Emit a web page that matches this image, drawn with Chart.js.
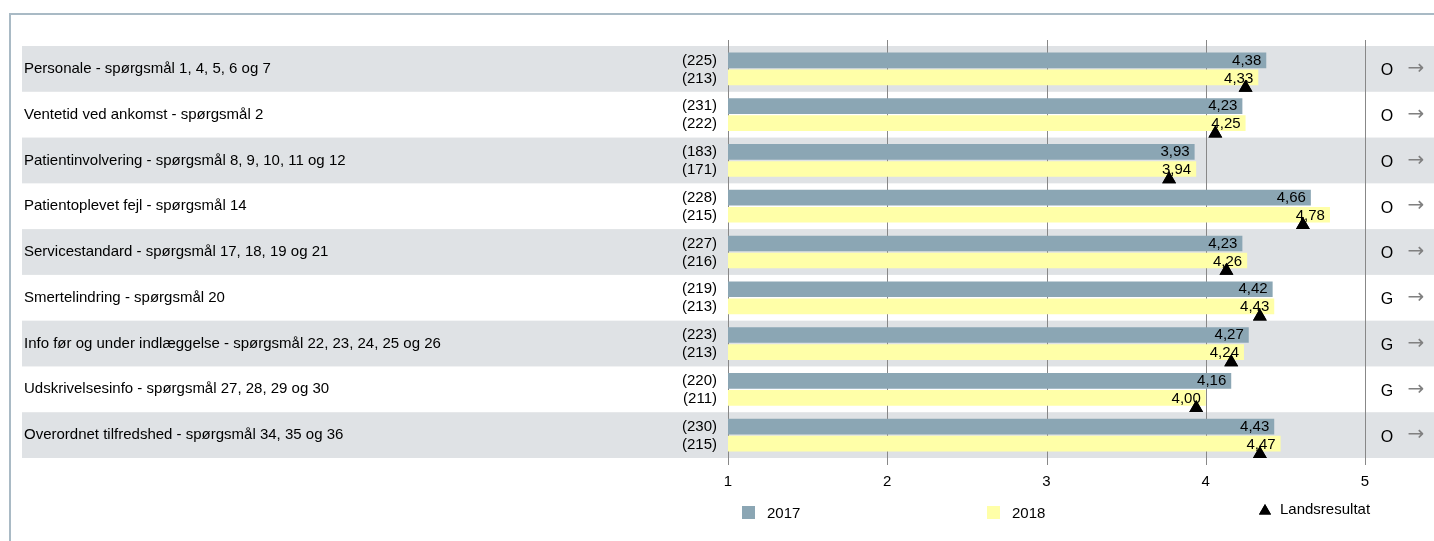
<!DOCTYPE html>
<html><head><meta charset="utf-8">
<script src="https://cdn.jsdelivr.net/npm/chart.js@4.4.1/dist/chart.umd.min.js"></script>
<style>
html,body{margin:0;padding:0;background:#fff;}
#wrap{position:relative;width:1434px;height:541px;overflow:hidden;}
#frame{position:absolute;left:9px;top:13px;right:-4px;bottom:-4px;border-top:2px solid #a9bac5;border-left:2px solid #a9bac5;pointer-events:none;}
canvas{position:absolute;left:0;top:0;}
</style></head><body>
<div id="wrap"><canvas id="c" width="1434" height="541"></canvas><div id="frame"></div></div>
<script>
/* Landsresultat chart, 2017 vs 2018 */
const categories=['Personale - spørgsmål 1, 4, 5, 6 og 7','Ventetid ved ankomst - spørgsmål 2','Patientinvolvering - spørgsmål 8, 9, 10, 11 og 12','Patientoplevet fejl - spørgsmål 14','Servicestandard - spørgsmål 17, 18, 19 og 21','Smertelindring - spørgsmål 20','Info før og under indlæggelse - spørgsmål 22, 23, 24, 25 og 26','Udskrivelsesinfo - spørgsmål 27, 28, 29 og 30','Overordnet tilfredshed - spørgsmål 34, 35 og 36'];
const v2017=[4.38,4.23,3.93,4.66,4.23,4.42,4.27,4.16,4.43];
const v2018=[4.33,4.25,3.94,4.78,4.26,4.43,4.24,4.00,4.47];
const lands=[4.25,4.06,3.77,4.61,4.13,4.34,4.16,3.94,4.34];
const n2017=[225,231,183,228,227,219,223,220,230];
const n2018=[213,222,171,215,216,213,213,211,215];
const grades=['O','O','O','O','O','G','G','G','O'];
const xTicks=[1,2,3,4,5];
const seriesNames=['2017','2018','Landsresultat'];

const C17='#8ba6b4',C18='#ffffa8',BAND='#dfe2e5',FONT='"Liberation Sans", Arial, sans-serif';
function fmt(v){return v.toFixed(2).replace('.',',');}

const decor={
  id:'decor',
  beforeDraw(chart){
    const {ctx,chartArea:a,scales:{x,y}}=chart;
    const step=(a.bottom-a.top)/categories.length;
    ctx.save();
    categories.forEach((c,i)=>{if(i%2===0){ctx.fillStyle=BAND;ctx.fillRect(y.left-2,a.top+i*step,chart.width-(y.left-2),step);}});
    ctx.strokeStyle='#888';ctx.lineWidth=1;
    xTicks.forEach(t=>{const px=Math.round(x.getPixelForValue(t))+0.5;ctx.beginPath();ctx.moveTo(px,a.top-6);ctx.lineTo(px,a.bottom+7);ctx.stroke();});
    ctx.restore();
  },
  afterDatasetsDraw(chart){
    const {ctx,chartArea:a,scales:{x,y}}=chart;
    const step=(a.bottom-a.top)/categories.length;
    ctx.save();
    ctx.font='15px '+FONT;ctx.fillStyle='#000';ctx.textAlign='right';ctx.textBaseline='middle';
    [v2017,v2018].forEach((vals,d)=>{
      chart.getDatasetMeta(d).data.forEach((el,i)=>{ctx.fillText(fmt(vals[i]),el.x-5,el.y+(d===0?0:1));});
    });
    // landsresultat markers
    lands.forEach((v,i)=>{
      ctx.fillStyle='#000';
      Chart.helpers.drawPoint(ctx,{pointStyle:'triangle',radius:8,borderWidth:0},x.getPixelForValue(v),y.getPixelForValue(i)+0.41*step);
      ctx.fill();
    });
    ctx.restore();
  },
  afterDraw(chart){
    const {ctx,chartArea:a}=chart;
    ctx.save();
    ctx.font='15px '+FONT;ctx.fillStyle='#000';ctx.textBaseline='middle';ctx.textAlign='right';
    [n2017,n2018].forEach((ns,d)=>{
      chart.getDatasetMeta(d).data.forEach((el,i)=>{ctx.fillText('('+ns[i]+')',a.left-11,el.y+(d===0?0:1));});
    });
    const step=(a.bottom-a.top)/categories.length;
    grades.forEach((g,i)=>{
      const cy=a.top+(i+0.5)*step;
      ctx.textAlign='center';ctx.fillStyle='#000';ctx.font='16px '+FONT;
      ctx.fillText(g,a.right+22,cy+2);
      ctx.fillStyle='#808080';ctx.font='20px "DejaVu Sans", sans-serif';
      ctx.fillText('→',a.right+51,cy);
    });
    // legend
    ctx.font='15px '+FONT;ctx.textAlign='left';
    ctx.fillStyle=C17;ctx.fillRect(a.left+14,506,13,13);
    ctx.fillStyle='#000';ctx.fillText(seriesNames[0],a.left+39,514);
    ctx.fillStyle=C18;ctx.fillRect(a.left+259,506,13,13);
    ctx.fillStyle='#000';ctx.fillText(seriesNames[1],a.left+284,514);
    Chart.helpers.drawPoint(ctx,{pointStyle:'triangle',radius:7,borderWidth:0},a.left+537,511);
    ctx.fill();
    ctx.fillText(seriesNames[2],a.left+552,510);
    ctx.restore();
  }
};

new Chart(document.getElementById('c'),{
  type:'bar',
  data:{labels:categories,datasets:[
    {label:seriesNames[0],data:v2017,backgroundColor:C17,categoryPercentage:0.745,barPercentage:0.92},
    {label:seriesNames[1],data:v2018,backgroundColor:C18,categoryPercentage:0.745,barPercentage:0.92}
  ]},
  options:{indexAxis:'y',responsive:false,animation:false,
    layout:{padding:{left:24,top:46,right:69,bottom:0}},
    plugins:{legend:{display:false},tooltip:{enabled:false}},
    scales:{
      x:{type:'linear',min:1,max:5,position:'bottom',
         afterBuildTicks(s){s.ticks=xTicks.map(v=>({value:v}));},
         afterFit(s){s.height=83;},
         grid:{display:false,drawTicks:false},border:{display:false},
         ticks:{color:'#000',padding:15,font:{family:FONT,size:15}}},
      y:{type:'category',position:'left',afterFit(s){s.width=704;},
         grid:{display:false,drawTicks:false},border:{display:false},
         ticks:{crossAlign:'far',color:'#000',font:{family:FONT,size:15}}}
    }
  },
  plugins:[decor]
});
</script>
</body></html>
